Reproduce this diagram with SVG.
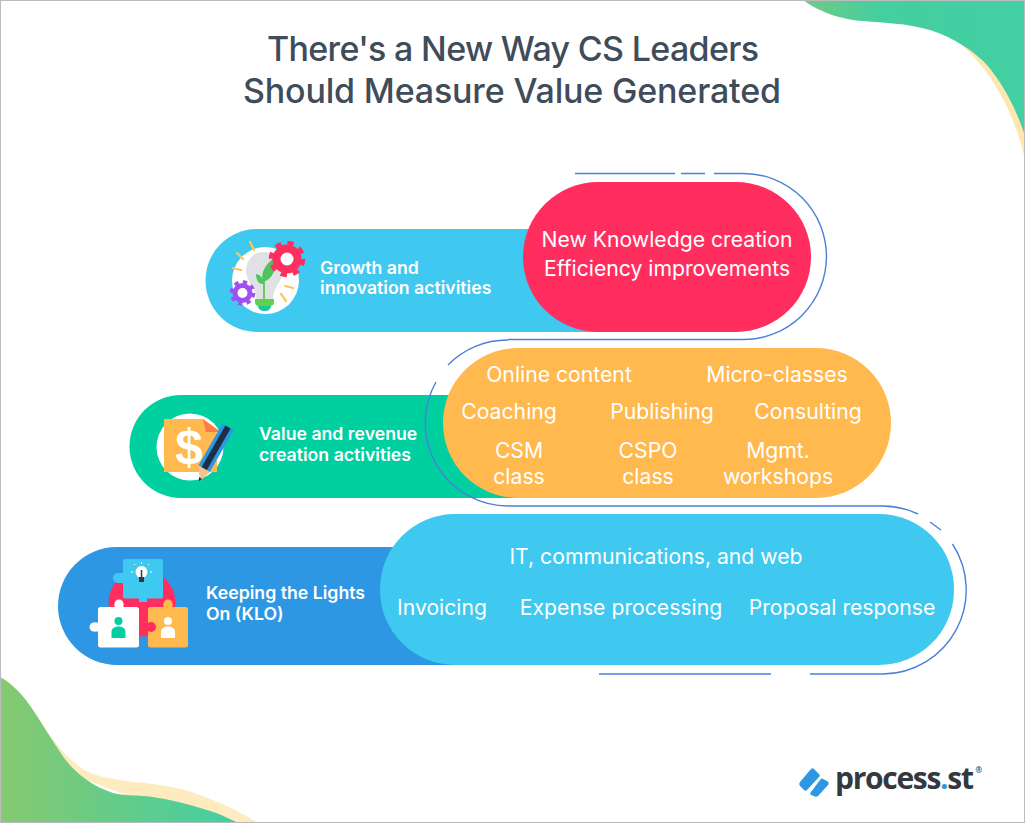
<svg xmlns="http://www.w3.org/2000/svg" width="1025" height="823" viewBox="0 0 1025 823">
<style>
.title{font:500 34px Inter,"Noto Sans",sans-serif;fill:#3f4c5a;text-anchor:middle}
.lab{font:600 17.7px Inter,"Liberation Sans",sans-serif;fill:#fff}
.it{font:400 21.2px Inter,"Liberation Sans",sans-serif;fill:#fff;text-anchor:middle}
.ol{fill:none;stroke:#4a80d8;stroke-width:1.4}
.ray{stroke:#ffc658;stroke-width:2.2;stroke-linecap:round}
</style>
<defs>
<linearGradient id="g1" x1="0" x2="1" y1="0" y2="0"><stop offset="0" stop-color="#71ca84"/><stop offset=".35" stop-color="#45cea0"/><stop offset="1" stop-color="#42cfa2"/></linearGradient>
<linearGradient id="g2" x1="0" x2="1" y1="0" y2="0"><stop offset="0" stop-color="#86c970"/><stop offset="1" stop-color="#42cfa2"/></linearGradient>
</defs>
<rect x="0" y="0" width="1025" height="823" fill="#fff"/>
<g id="corners">
<path d="M953 38C978 56 1012 98 1025 160V100L990 50Z" fill="#fde6b0"/>
<path d="M803 0C822 14 845 20 863 21C885 23 905 23 930 30C955 38 975 52 987 65C1003 84 1016 108 1025 136V0Z" fill="url(#g1)"/>
<path d="M30 705C50 735 58 750 80 767C92 776 107 778 133 782C160 784 182 788 200 795C222 803 240 812 258 823H200L60 770Z" fill="#feebbf"/>
<path d="M0 677C12 683 24 696 33 710C42 724 50 737 60 752C70 768 88 785 113 793C125 796 135 795 143 796C160 797 185 803 207 810C218 813 228 818 238 823H0Z" fill="url(#g2)"/>
</g>
<g id="title">
<text class="title" x="513" y="61" textLength="492">There's a New Way CS Leaders</text>
<text class="title" x="512" y="103" textLength="538">Should Measure Value Generated</text>
</g>
<g id="node-growth">
<path d="M257 229H600V332H257A51.500 51.500 0 0 1 257 229Z" fill="#3fc8f0"/>
<rect x="523" y="182" width="288" height="150" rx="75" fill="#ff2e5f"/>
<g id="icon-growth">
<circle cx="265.500" cy="280.500" r="33.500" fill="#fff"/>
<path d="M264 252C252 252 246 262 246 271C246 282 256 286 256 300H273C273 286 283 282 283 271C283 262 276 252 264 252Z" fill="#dfe1e5"/>
<path d="M264 300V280" stroke="#5ec94f" stroke-width="1.800"/>
<path d="M263 282C260 272 266 264 275 257C277 268 273 279 263 282Z" fill="#4fc45a"/>
<path d="M263 284C258 284 256 279 256 274C260 275 263 277 264 284Z" fill="#4fc45a"/>
<path d="M255 299H274V302C274 305 272 306 270 306H259C257 306 255 305 255 302Z" fill="#5fd14f"/>
<path d="M258 306H271C271 309 268 311 265 311C261 311 258 309 258 306Z" fill="#19c8a0"/>
<circle cx="287" cy="259" r="10.500" fill="#fff" stroke="#ff2e5f" stroke-width="8"/>
<circle cx="287" cy="259" r="16" fill="none" stroke="#ff2e5f" stroke-width="4.500" stroke-dasharray="6.280 6.280"/>
<circle cx="242.500" cy="293" r="7.500" fill="#fff" stroke="#a04ff0" stroke-width="5"/>
<circle cx="242.500" cy="293" r="11" fill="none" stroke="#a04ff0" stroke-width="3.500" stroke-dasharray="4.320 4.320"/>
<path class="ray" d="M250 242L254 250M237 253L243 259M233 268L241 270M285 286L293 288M281 294L286 301"/>
</g>
<text class="lab" x="320" y="274">Growth and</text>
<text class="lab" x="320" y="294">innovation activities</text>
<text class="it" x="667" y="247">New Knowledge creation</text>
<text class="it" x="667" y="276">Efficiency improvements</text>
</g>
<g id="node-value">
<path d="M181 395H520V498H181A51.500 51.500 0 0 1 181 395Z" fill="#00cfa0"/>
<rect x="443" y="348" width="448" height="150" rx="75" fill="#ffb94f"/>
<g id="icon-value">
<circle cx="190" cy="447" r="33.500" fill="#fff"/>
<path d="M164 419H203L217 432V472H164Z" fill="#ffb94f"/>
<path d="M203 419L221 432H206Z" fill="#ff7a45"/>
<text x="189" y="464" font-family="Liberation Sans,sans-serif" font-weight="700" font-size="50" fill="#fff" text-anchor="middle">$</text>
<path d="M204 469L228 427" stroke="#2d97e3" stroke-width="13"/>
<path d="M204 469L228 427" stroke="#1d2f45" stroke-width="6"/>
<path d="M198 465L210 472L200 481Z" fill="#f4c48a"/>
<path d="M199 477L202 479L199 481Z" fill="#1d2f45"/>
</g>
<text class="lab" x="259" y="440">Value and revenue</text>
<text class="lab" x="259" y="461">creation activities</text>
<text class="it" x="559" y="382">Online content</text>
<text class="it" x="777" y="382">Micro-classes</text>
<text class="it" x="509" y="419">Coaching</text>
<text class="it" x="662" y="419">Publishing</text>
<text class="it" x="808" y="419">Consulting</text>
<text class="it" x="519" y="458">CSM</text>
<text class="it" x="519" y="484">class</text>
<text class="it" x="648" y="458">CSPO</text>
<text class="it" x="648" y="484">class</text>
<text class="it" x="778" y="458">Mgmt.</text>
<text class="it" x="778" y="484">workshops</text>
</g>
<g id="node-klo">
<path d="M117 547H480V665H117A59 59 0 0 1 117 547Z" fill="#2d97e3"/>
<rect x="380" y="514" width="574" height="151" rx="75" fill="#3fc8f0"/>
<g id="icon-klo">
<circle cx="142" cy="603" r="33.500" fill="#ff2e5f"/>
<rect x="123" y="559" width="40" height="39.500" rx="2" fill="#3fc8f0"/>
<circle cx="118" cy="578" r="5" fill="#3fc8f0"/>
<rect x="117" y="573" width="8" height="10" fill="#3fc8f0"/>
<circle cx="143" cy="598" r="4" fill="#3fc8f0"/><rect x="139" y="594" width="8" height="8" fill="#3fc8f0"/>
<circle cx="141.500" cy="572" r="6" fill="#fff"/>
<rect x="139" y="577" width="5" height="5" fill="#2c3a4c"/>
<path d="M141.500 570V577" stroke="#2c3a4c" stroke-width="1.500"/>
<path d="M141.500 562V564M133 572H131M150 572H152M135 565L134 564M148 565L149 564" stroke="#fff" stroke-width="1"/>
<rect x="98" y="607" width="41" height="40.500" rx="2.500" fill="#fff"/>
<circle cx="94" cy="627" r="4.500" fill="#fff"/><rect x="94" y="622.500" width="6" height="9" fill="#fff"/>
<circle cx="119" cy="604" r="4.500" fill="#fff"/><rect x="114.500" y="604" width="9" height="5" fill="#fff"/>
<circle cx="118.500" cy="621" r="4" fill="#00cfa0"/>
<path d="M111.500 638V632C111.500 628 115 626.500 118.500 626.500C122 626.500 125.500 628 125.500 632V638Z" fill="#00cfa0"/>
<rect x="148" y="607" width="40" height="40.500" rx="2.500" fill="#ffb94f"/>
<circle cx="168" cy="604" r="4.500" fill="#ffb94f"/><rect x="163.500" y="604" width="9" height="5" fill="#ffb94f"/>
<circle cx="151" cy="627" r="5" fill="#ff2e5f"/>
<circle cx="168" cy="621" r="4" fill="#fff"/>
<path d="M161 638V632C161 628 164.500 626.500 168 626.500C171.500 626.500 175 628 175 632V638Z" fill="#fff"/>
</g>
<text class="lab" x="206" y="599">Keeping the Lights</text>
<text class="lab" x="206" y="620">On (KLO)</text>
<text class="it" x="656" y="564">IT, communications, and web</text>
<text class="it" x="442" y="615">Invoicing</text>
<text class="it" x="621" y="615">Expense processing</text>
<text class="it" x="842" y="615">Proposal response</text>
</g>
<g id="connectors">
<path class="ol" d="M575 173.500H675M681 173.500H705M714 173.500H743.500A83 83 0 0 1 743.500 339.500H508M508 340A83 83 0 0 0 448 365M436 382A83 83 0 0 0 508 506H883A84 84 0 0 1 918 514"/>
<path class="ol" d="M930 522L941 530M952.500 544A84 84 0 0 1 883 674H810M771 674H599"/>
</g>
<g id="logo">
<path d="M800 782L811 769C812 768 813 768 814 769L819 774C820 775 820 776 819 777L807 790C806 791 805 791 804 790L800 786C799 785 799 783 800 782Z" fill="#2d97e3"/>
<path d="M811 792L820 780C821 779 822 778 823 779L827 781C829 782 829 784 828 785L818 796C817 797 815 797 814 796L811 795C810 794 810 793 811 792Z" fill="#2d97e3"/>
<text x="835" y="789" font-family="Open Sans,sans-serif" font-weight="700" font-size="30" fill="#333940" textLength="139">process<tspan fill="#2d97e3">.</tspan><tspan>st</tspan></text>
<text x="975.500" y="773" font-family="Open Sans,sans-serif" font-weight="600" font-size="8" fill="#333940">®</text>
</g>
<rect x="0.500" y="0.500" width="1024" height="822" fill="none" stroke="#b8bcc0" stroke-width="1"/>
</svg>
